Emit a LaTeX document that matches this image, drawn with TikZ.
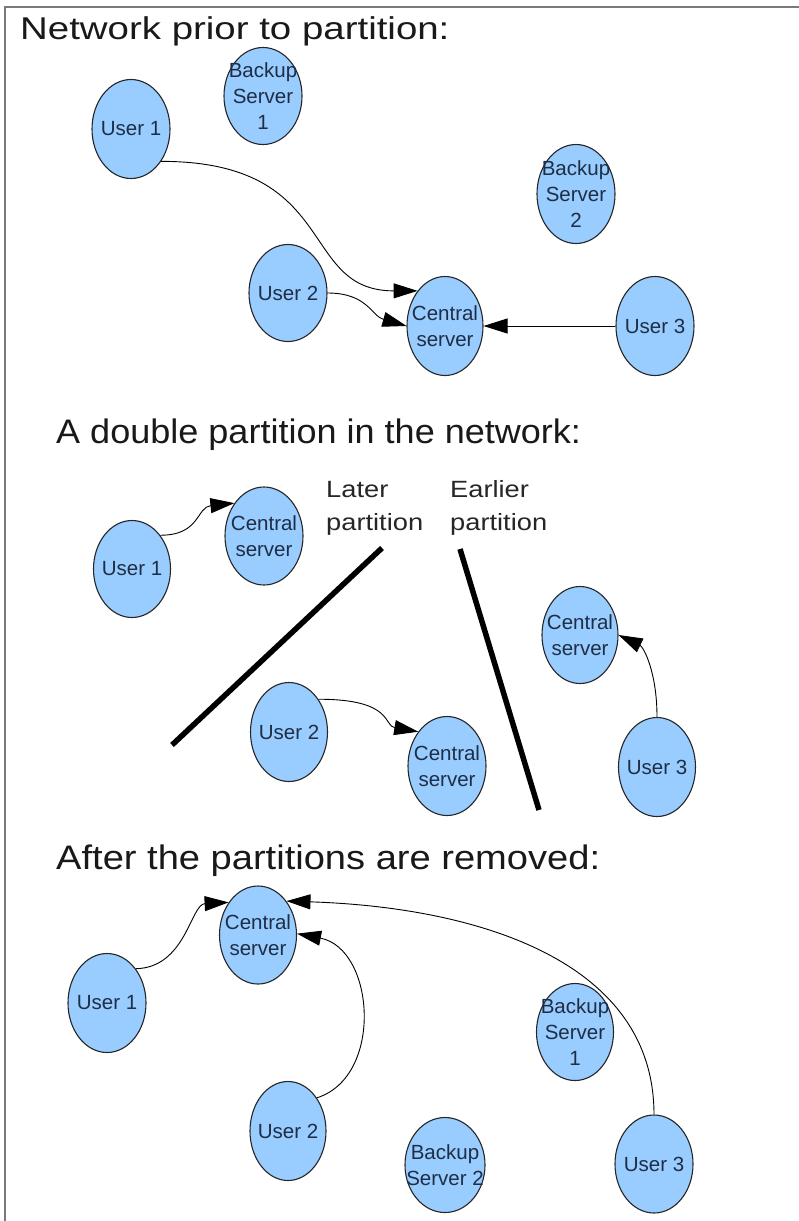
\documentclass[tikz,border=0pt]{standalone}
\usepackage{fontspec}
\usepackage{graphicx}
\setmainfont{Liberation Sans}
\usetikzlibrary{shapes.geometric,arrows.meta}
\definecolor{peerfill}{HTML}{99CCFF}
\definecolor{peertext}{HTML}{1E2E45}
\definecolor{framegray}{HTML}{7A7A7A}
% horizontally widened text
\newcommand{\widetext}[2]{\scalebox{#1}[1]{#2}}

\begin{document}
\begin{tikzpicture}[x=1pt,y=-1pt,
  peer/.style={ellipse, draw=black!85, line width=1.1pt, fill=peerfill,
    inner sep=0pt, minimum width=78pt, minimum height=99pt},
  txt/.style={text=peertext, font=\fontsize{20.5}{26}\selectfont,
    align=center, inner sep=0pt},
  link/.style={line width=0.9pt, -{Triangle[length=24pt,width=15pt]}},
  wall/.style={line width=5.5pt},
  heading/.style={anchor=base west, inner sep=0pt, text=black!90},
  note/.style={anchor=base west, inner sep=0pt, text=black!85,
    font=\fontsize{23.5}{33}\selectfont}
]
\useasboundingbox (0,0) rectangle (799,1221);
\fill[white] (0,0) rectangle (799,1221);
\draw[framegray, line width=2pt] (5,1221) -- (5,7) -- (799,7);

% ---------- Network prior to partition ----------
\node[heading, font=\fontsize{31.5}{38}\selectfont] (t1) at (20,39)
  {\widetext{1.22}{Network prior to partition:}};
\node[peer, label={[txt]center:User 1}] (u1a) at (131,129) {};
\node[peer, minimum height=97pt, label={[txt]center:{Backup\\Server\\1}}] (b1a) at (263,96) {};
\node[peer, label={[txt]center:{Backup\\Server\\2}}] (b2a) at (576,194) {};
\node[peer, minimum height=97pt, label={[txt]center:User 2}] (u2a) at (288,293) {};
\node[peer, minimum width=76pt, label={[txt]center:{Central\\server}}] (ca) at (445,326) {};
\node[peer, label={[txt]center:User 3}] (u3a) at (655,326) {};

\draw[link] (u1a.-47) .. controls +(180,0) and +(-120,0) .. (ca.128);
\draw[link] (u2a.east) .. controls +(40,0) and +(-35,-10) .. (ca.west);
\draw[link] (u3a.west) -- (ca.east);

% ---------- A double partition in the network ----------
\node[heading, font=\fontsize{34}{40}\selectfont] (t2) at (56,443)
  {\widetext{1.06}{A double partition in the network:}};
\node[note] (later1) at (326,497) {\widetext{1.16}{Later}};
\node[note] (later2) at (326,530) {\widetext{1.16}{partition}};
\node[note] (earlier1) at (450,497) {\widetext{1.16}{Earlier}};
\node[note] (earlier2) at (450,530) {\widetext{1.16}{partition}};

\draw[wall] (382,548) -- (172,745);
\draw[wall] (460,549) -- (539,810);

\node[peer, minimum width=77pt, minimum height=97pt, label={[txt]center:User 1}] (u1b) at (132,569) {};
\node[peer, minimum height=98pt, label={[txt]center:{Central\\server}}] (cb1) at (264,536) {};
\node[peer, minimum width=77pt, label={[txt]center:User 2}] (u2b) at (289,732) {};
\node[peer, label={[txt]center:{Central\\server}}] (cb2) at (447,766) {};
\node[peer, minimum width=76pt, minimum height=97pt, label={[txt]center:{Central\\server}}] (cb3) at (580,635) {};
\node[peer, minimum width=77pt, label={[txt]center:User 3}] (u3b) at (657,767) {};

\draw[link] (u1b.50) .. controls +(40,0) and +(-38,4) .. (cb1.132);
\draw[link] (u2b.48) .. controls +(75,0) and +(-35,-6) .. (cb2.130);
\draw[link] (u3b.north) .. controls +(0,-45) and +(25,12) .. (cb3.east);

% ---------- After the partitions are removed ----------
\node[heading, font=\fontsize{34}{40}\selectfont] (t3) at (56,869)
  {\widetext{1.12}{After the partitions are removed:}};
\node[peer, minimum width=77pt, minimum height=98pt, label={[txt]center:{Central\\server}}] (cc) at (258,935) {};
\node[peer, label={[txt]center:User 1}] (u1c) at (107,1003) {};
\node[peer, minimum width=76pt, label={[txt]center:User 2}] (u2c) at (288,1131) {};
\node[peer, minimum width=77pt, minimum height=97pt, label={[txt]center:{Backup\\Server\\1}}] (b1c) at (575,1032) {};
\node[peer, minimum width=80pt, minimum height=95pt, label={[txt]center:{Backup\\Server 2}}] (b2c) at (445,1165) {};
\node[peer, minimum height=98pt, label={[txt]center:User 3}] (u3c) at (654,1164) {};

\draw[link] (u1c.50) .. controls +(50,-1) and +(-38,2) .. (cc.132);
\draw[link] (u2c.49) .. controls +(67,-21) and +(78,15) .. (cc.2);
\draw[link] (u3c.north) .. controls +(0,-155) and +(188,6) .. (cc.50);
\end{tikzpicture}
\end{document}
